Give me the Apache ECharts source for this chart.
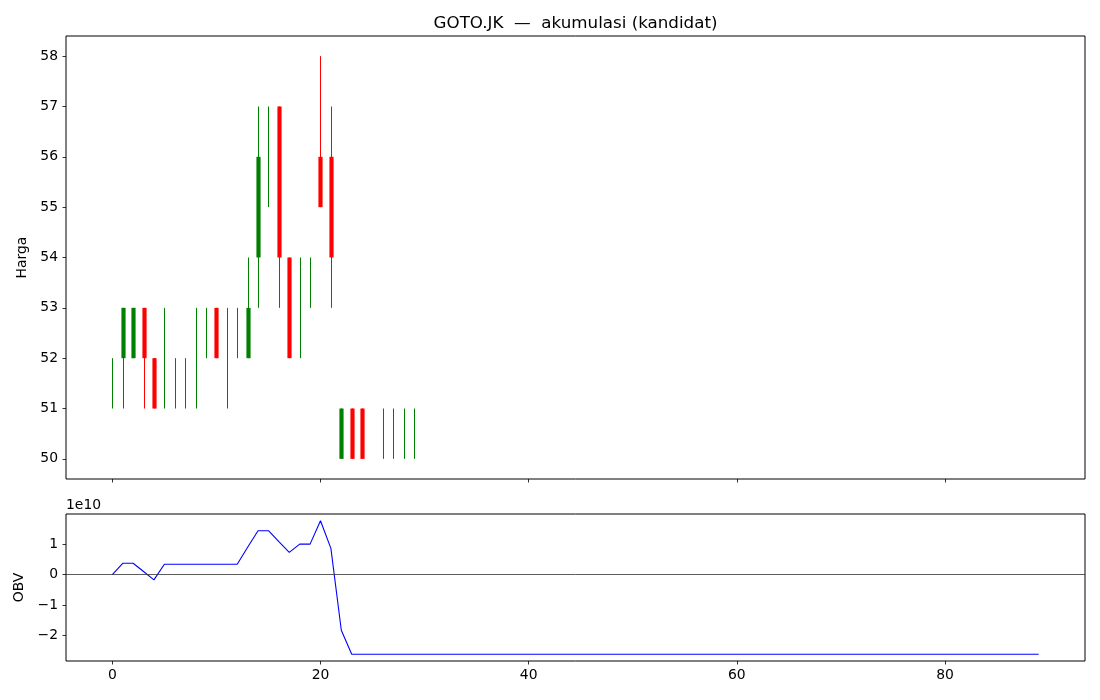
<!DOCTYPE html>
<html><head><meta charset="utf-8">
<script src="https://cdn.jsdelivr.net/npm/echarts@6/dist/echarts.min.js"></script>
<style>html,body{margin:0;padding:0;background:#fff}#c{width:1100px;height:700px}</style>
</head><body><div id="c"></div>
<script>
// ---- data ----
const candleIndex = [0,1,2,3,4,5,6,7,8,9,10,11,12,13,14,15,16,17,18,19,20,21,22,23,24,26,27,28,29];
const opens  = [52,52,52,53,52,52,52,52,52,52,53,52,52,52,54,56,57,54,53,53,56,56,50,51,51,50,50,50,50];
const closes = [52,53,53,52,51,52,52,52,52,52,52,52,52,53,56,56,54,52,53,53,55,54,51,50,50,50,50,50,50];
const lows   = [51,51,52,51,51,51,51,51,51,52,52,51,52,52,53,55,53,52,52,53,55,53,50,50,50,50,50,50,50];
const highs  = [52,53,53,53,52,53,52,52,53,53,53,53,53,54,57,57,57,54,54,54,58,57,51,51,51,51,51,51,51];

const obvIndex = [0,1,2,3,4,5,6,7,8,9,10,11,12,13,14,15,16,17,18,19,20,21,22,23,24,25,26,27,28,29,
  30,31,32,33,34,35,36,37,38,39,40,41,42,43,44,45,46,47,48,49,50,51,52,53,54,55,56,57,58,59,
  60,61,62,63,64,65,66,67,68,69,70,71,72,73,74,75,76,77,78,79,80,81,82,83,84,85,86,87,88,89];
const obvE10 = [0,0.37,0.37,0.10,-0.175,0.34,0.34,0.34,0.34,0.34,0.34,0.34,0.34,0.90,1.44,1.44,1.08,0.73,1.00,1.00,1.77,0.86,-1.83,-2.62,-2.62,-2.62,-2.62,-2.62,-2.62,-2.62,
  -2.62,-2.62,-2.62,-2.62,-2.62,-2.62,-2.62,-2.62,-2.62,-2.62,-2.62,-2.62,-2.62,-2.62,-2.62,-2.62,-2.62,-2.62,-2.62,-2.62,-2.62,-2.62,-2.62,-2.62,-2.62,-2.62,-2.62,-2.62,-2.62,-2.62,
  -2.62,-2.62,-2.62,-2.62,-2.62,-2.62,-2.62,-2.62,-2.62,-2.62,-2.62,-2.62,-2.62,-2.62,-2.62,-2.62,-2.62,-2.62,-2.62,-2.62,-2.62,-2.62,-2.62,-2.62,-2.62,-2.62,-2.62,-2.62,-2.62,-2.62];

const priceTicks = [50,51,52,53,54,55,56,57,58];
const obvTicks = [-2,-1,0,1];
const xTicks = [0,20,40,60,80];
const titleText = 'GOTO.JK  \u2014  akumulasi (kandidat)';

// ---- chart ----
const FONT = 'DejaVu Sans';
const chart = echarts.init(document.getElementById('c'));
const candleData = candleIndex.map((x, k) => [x, opens[k], closes[k], lows[k], highs[k]]);
const obvData = obvIndex.map((x, k) => [x, obvE10[k]]);
const minus = v => (v < 0 ? '\u2212' + Math.abs(v) : String(v));

const labelStyle = {color: '#000', fontFamily: FONT, fontSize: 13.9};
const tickStyle = {show: true, length: 3.5, lineStyle: {color: '#000', width: 0.8}};
const noLine = {show: false, onZero: false};

chart.setOption({
  animation: false,
  backgroundColor: '#fff',
  graphic: [
    {type: 'text', x: 575.5, y: 23.5, style: {text: titleText, fill: '#000', font: '16.7px "DejaVu Sans"', textAlign: 'center', textVerticalAlign: 'middle'}},
    {type: 'text', x: 66, y: 505, style: {text: '1e10', fill: '#000', font: '13.9px "DejaVu Sans"', textAlign: 'left', textVerticalAlign: 'middle'}}
  ],
  grid: [
    {left: 66, right: 15, top: 36, height: 443, show: true, borderColor: '#000', borderWidth: 1, backgroundColor: 'transparent'},
    {left: 66, right: 15, top: 514, height: 147, show: true, borderColor: '#000', borderWidth: 1, backgroundColor: 'transparent'}
  ],
  xAxis: [
    {type: 'value', gridIndex: 0, position: 'bottom', min: -4.45, max: 93.45,
     axisLine: noLine, splitLine: {show: false},
     axisTick: Object.assign({customValues: xTicks}, tickStyle),
     axisLabel: {show: false}},
    {type: 'value', gridIndex: 1, position: 'bottom', min: -4.45, max: 93.45,
     axisLine: noLine, splitLine: {show: false},
     axisTick: Object.assign({customValues: xTicks}, tickStyle),
     axisLabel: Object.assign({show: true, margin: 7, customValues: xTicks}, labelStyle)}
  ],
  yAxis: [
    {type: 'value', gridIndex: 0, position: 'left', min: 49.6, max: 58.4,
     name: 'Harga', nameLocation: 'middle', nameRotate: 90, nameGap: 32,
     nameTextStyle: {color: '#000', fontFamily: FONT, fontSize: 13.9},
     axisLine: noLine, splitLine: {show: false},
     axisTick: Object.assign({customValues: priceTicks}, tickStyle),
     axisLabel: Object.assign({show: true, margin: 8, customValues: priceTicks}, labelStyle)},
    {type: 'value', gridIndex: 1, position: 'left', min: -2.84, max: 1.99,
     name: 'OBV', nameLocation: 'middle', nameRotate: 90, nameGap: 35,
     nameTextStyle: {color: '#000', fontFamily: FONT, fontSize: 13.9},
     axisLine: noLine, splitLine: {show: false},
     axisTick: Object.assign({customValues: obvTicks}, tickStyle),
     axisLabel: Object.assign({show: true, margin: 8, customValues: obvTicks, formatter: minus}, labelStyle)}
  ],
  series: [
    {type: 'custom', xAxisIndex: 0, yAxisIndex: 0, clip: true,
     data: candleData,
     encode: {x: 0, y: [1, 2, 3, 4]},
     renderItem: function (params, api) {
       const x = api.value(0), o = api.value(1), c = api.value(2), l = api.value(3), h = api.value(4);
       const color = c >= o ? '#008000' : '#ff0000';
       const pL = api.coord([x, l]), pH = api.coord([x, h]);
       const w = api.size([0.4, 0])[0];
       const cx = Math.round(pL[0]) + 0.5;
       const children = [{
         type: 'line',
         shape: {x1: cx, y1: pL[1], x2: cx, y2: pH[1]},
         style: {stroke: color, lineWidth: 1}
       }];
       if (o !== c) {
         const pO = api.coord([x, o]), pC = api.coord([x, c]);
         children.push({
           type: 'rect',
           shape: {x: cx - w / 2, y: Math.min(pO[1], pC[1]), width: w, height: Math.abs(pO[1] - pC[1])},
           style: {fill: color}
         });
       }
       return {type: 'group', children: children};
     }},
    {type: 'line', xAxisIndex: 1, yAxisIndex: 1, data: obvData,
     showSymbol: false, symbol: 'none',
     lineStyle: {color: '#0000ff', width: 1.1},
     markLine: {silent: true, symbol: ['none', 'none'], label: {show: false},
       lineStyle: {color: '#333', width: 0.8, type: 'solid'},
       data: [{yAxis: 0}]}}
  ]
});
</script>
</body></html>
